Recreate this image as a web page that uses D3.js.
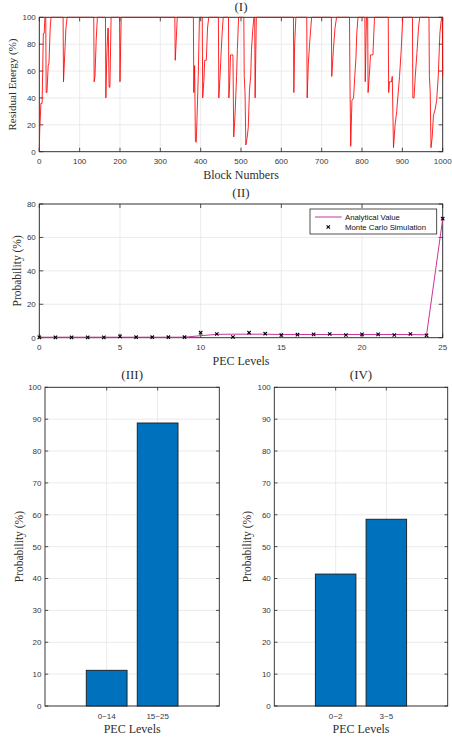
<!DOCTYPE html>
<html><head><meta charset="utf-8">
<script src="https://cdn.jsdelivr.net/npm/d3@7"></script>
<style>body{margin:0;background:#fff} svg{display:block}</style>
</head><body>
<script>
// ---------- Panel (I): residual energy (vertices) ----------
const blockNums = [0,1,4,7,10,12,14, 16,17,19,22,24,27,29, 59,60,63,66,69, 135,136,138,141,144,
  164,165,167,170,171,173,175,178, 199,200,203, 336,337,339,342,
  382,383,385,387,389,391,394,397, 404,405,408,410,414,417,420, 444,445,448,451,454,456,
  469,470,472,474,480,482,485,489,491,494, 507,508,510,512,515,518,521,524,526,529,532,
  534,535,538, 630,631,633,636, 663,664,667,670,673,675, 724,725,729,733,737,
  769,770,772,775,779,782,785,787,790, 807,808,811,814,815,818,821,827,831,
  865,866,868,873,875,878,882,886,893,897,901, 925,926,929,932,936,940,943,
  966,967,969,971,974,977,981,985,989,993,996,998,999,1000];
const residualEnergy = [0,15,36,36,88,88,100, 100,44,44,64,66,92,100, 100,52,72,92,100, 100,52,56,83,100,
  100,40,68,92,92,48,48,100, 100,52,100, 100,68,80,100,
  100,44,64,8,7,25,56,100, 100,40,53,68,68,92,100, 100,40,56,75,92,100,
  100,40,52,72,72,11,26,56,76,100, 100,56,44,5,10,18,46,56,76,90,100,
  100,40,100, 100,44,80,100, 100,40,66,80,92,100, 100,56,76,92,100,
  100,56,4,38,40,56,70,88,100, 100,52,100,100,44,56,72,72,100,
  100,44,52,52,56,3,20,30,56,75,100, 100,40,40,56,73,92,100,
  100,56,45,3,11,27,31,38,56,88,97,100,100,56];
const xTicksI = [0,100,200,300,400,500,600,700,800,900,1000];
const yTicksI = [0,20,40,60,80,100];

// ---------- Panel (II): probability per PEC level ----------
const pecLevels = [0,1,2,3,4,5,6,7,8,9,10,11,12,13,14,15,16,17,18,19,20,21,22,23,24,25];
const analyticalValue = [0.3,0.3,0.3,0.3,0.3,0.3,0.3,0.3,0.3,0.3,1.2,2.0,2.1,2.1,2.1,1.9,1.9,1.9,1.9,1.9,1.9,1.9,1.9,1.9,1.7,71.0];
const monteCarlo = [0.2,0.2,0.2,0.2,0.2,0.8,0.3,0.3,0.3,0.3,3.0,2.2,0.4,3.0,2.4,1.6,1.8,2.0,2.2,1.6,2.0,2.0,1.6,2.2,1.4,71.2];
const xTicksII = [0,5,10,15,20,25];
const yTicksII = [0,20,40,60,80];

// ---------- Panels (III) and (IV): grouped probabilities ----------
const groupsIII = ["0~14","15~25"];
const probIII = [11.2, 88.8];
const groupsIV = ["0~2","3~5"];
const probIV = [41.4, 58.6];
const yTicksBar = [0,10,20,30,40,50,60,70,80,90,100];

const W = 452, H = 738;
const svg = d3.select("body").append("svg").attr("width", W).attr("height", H);
const AX = "#262626", GRID = "#e6e6e6", TXT = "#383838";
const SANS = "'Liberation Sans', Arial, Helvetica, sans-serif";
const SERIF = "'Liberation Serif', 'Times New Roman', serif";

function frame(x, y, xt, yt, tickLen, xLabels) {
  const g = svg.append("g");
  const [x0, x1] = [x.range()[0], x.range()[1]];
  const [yb, yt0] = [y.range()[0], y.range()[1]];
  g.selectAll(null).data(xt).join("line")
    .attr("x1", d => x(d)).attr("x2", d => x(d)).attr("y1", yb).attr("y2", yt0)
    .attr("stroke", GRID).attr("stroke-width", 0.8);
  g.selectAll(null).data(yt).join("line")
    .attr("x1", x0).attr("x2", x1).attr("y1", d => y(d)).attr("y2", d => y(d))
    .attr("stroke", GRID).attr("stroke-width", 0.8);
  g.append("rect").attr("x", x0).attr("y", yt0).attr("width", x1 - x0).attr("height", yb - yt0)
    .attr("fill", "none").attr("stroke", AX).attr("stroke-width", 0.9);
  xt.forEach(d => {
    g.append("line").attr("x1", x(d)).attr("x2", x(d)).attr("y1", yb).attr("y2", yb - tickLen).attr("stroke", AX).attr("stroke-width", 0.8);
    g.append("line").attr("x1", x(d)).attr("x2", x(d)).attr("y1", yt0).attr("y2", yt0 + tickLen).attr("stroke", AX).attr("stroke-width", 0.8);
  });
  yt.forEach(d => {
    g.append("line").attr("x1", x0).attr("x2", x0 + tickLen).attr("y1", y(d)).attr("y2", y(d)).attr("stroke", AX).attr("stroke-width", 0.8);
    g.append("line").attr("x1", x1).attr("x2", x1 - tickLen).attr("y1", y(d)).attr("y2", y(d)).attr("stroke", AX).attr("stroke-width", 0.8);
  });
  g.selectAll(null).data(xt).join("text")
    .attr("x", d => x(d)).attr("y", yb + 12.5).attr("text-anchor", "middle")
    .attr("font-family", SANS).attr("font-size", 8).attr("fill", TXT)
    .text((d, i) => xLabels ? xLabels[i] : d);
  g.selectAll(null).data(yt).join("text")
    .attr("x", x0 - 3.5).attr("y", d => y(d) + 2.9).attr("text-anchor", "end")
    .attr("font-family", SANS).attr("font-size", 8).attr("fill", TXT)
    .text(d => d);
  return g;
}

function label(text, x, y, size, rotate) {
  const t = svg.append("text").attr("font-family", SERIF).attr("font-size", size)
    .attr("fill", "#2e2e2e").attr("text-anchor", "middle").text(text);
  if (rotate) t.attr("transform", `translate(${x},${y}) rotate(-90)`);
  else t.attr("x", x).attr("y", y);
}

// ===== Panel I =====
const xI = d3.scaleLinear().domain([0, 1000]).range([39.3, 442.7]);
const yI = d3.scaleLinear().domain([0, 100]).range([151.7, 17.3]);
frame(xI, yI, xTicksI, yTicksI, 4);
const energyPts = blockNums.map((b, i) => [b, residualEnergy[i]]);
svg.append("path").datum(energyPts)
  .attr("d", d3.line().x(d => xI(d[0])).y(d => yI(d[1])))
  .attr("fill", "none").attr("stroke", "#ff0000").attr("stroke-width", 0.85);
label("(I)", (39.3 + 442.7) / 2, 11, 13);
label("Block Numbers", (39.3 + 442.7) / 2, 179, 12);
label("Residual Energy (%)", 16, (151.7 + 17.3) / 2, 11, true);

// ===== Panel II =====
const xII = d3.scaleLinear().domain([0, 25]).range([39.3, 442.7]);
const yII = d3.scaleLinear().domain([0, 80]).range([337.7, 204]);
frame(xII, yII, xTicksII, yTicksII, 4);
svg.append("path").datum(pecLevels.map((p, i) => [p, analyticalValue[i]]))
  .attr("d", d3.line().x(d => xII(d[0])).y(d => yII(d[1])))
  .attr("fill", "none").attr("stroke", "#c9349a").attr("stroke-width", 1);
const xMark = "M-1.7,-1.7L1.7,1.7M-1.7,1.7L1.7,-1.7";
svg.append("g").selectAll("path").data(pecLevels.map((p, i) => [p, monteCarlo[i]])).join("path")
  .attr("d", xMark).attr("transform", d => `translate(${xII(d[0])},${yII(d[1])})`)
  .attr("fill", "none").attr("stroke", "#000").attr("stroke-width", 1.1);
label("(II)", (39.3 + 442.7) / 2, 197, 13);
label("PEC Levels", (39.3 + 442.7) / 2, 365, 12);
label("Probability (%)", 21, (337.7 + 204) / 2, 11.5, true);
const lg = svg.append("g");
lg.append("rect").attr("x", 310).attr("y", 209).attr("width", 126.7).attr("height", 25)
  .attr("fill", "#fff").attr("stroke", AX).attr("stroke-width", 0.8);
lg.append("line").attr("x1", 315).attr("x2", 341.7).attr("y1", 217).attr("y2", 217)
  .attr("stroke", "#c9349a").attr("stroke-width", 1);
lg.append("path").attr("d", xMark).attr("transform", "translate(328.3,227)")
  .attr("fill", "none").attr("stroke", "#000").attr("stroke-width", 1.1);
lg.append("text").attr("x", 345).attr("y", 219.8).attr("font-family", SANS).attr("font-size", 7.8).attr("fill", "#111").text("Analytical Value");
lg.append("text").attr("x", 345).attr("y", 229.8).attr("font-family", SANS).attr("font-size", 7.8).attr("fill", "#111").text("Monte Carlo Simulation");

// ===== Panels III & IV =====
function barPanel(groups, vals, x0, x1, title, ylabX) {
  const x = d3.scalePoint().domain(groups).range([x0, x1]).padding(1.21);
  const y = d3.scaleLinear().domain([0, 100]).range([706, 387.3]);
  frame(x, y, groups, yTicksBar, 3.2, groups);
  const bw = x.step() * 0.8;
  svg.append("g").selectAll("rect").data(groups.map((g, i) => [g, vals[i]])).join("rect")
    .attr("x", d => x(d[0]) - bw / 2).attr("width", bw)
    .attr("y", d => y(d[1])).attr("height", d => y(0) - y(d[1]))
    .attr("fill", "#0072BD").attr("stroke", "#1a1a1a").attr("stroke-width", 0.9);
  label(title, (x0 + x1) / 2, 379, 13);
  label("PEC Levels", (x0 + x1) / 2, 733, 12);
  label("Probability (%)", ylabX, (706 + 387.3) / 2, 11.5, true);
}
barPanel(groupsIII, probIII, 45, 219.3, "(III)", 22.5);
barPanel(groupsIV, probIV, 274.3, 447.7, "(IV)", 251);
</script>
</body></html>
